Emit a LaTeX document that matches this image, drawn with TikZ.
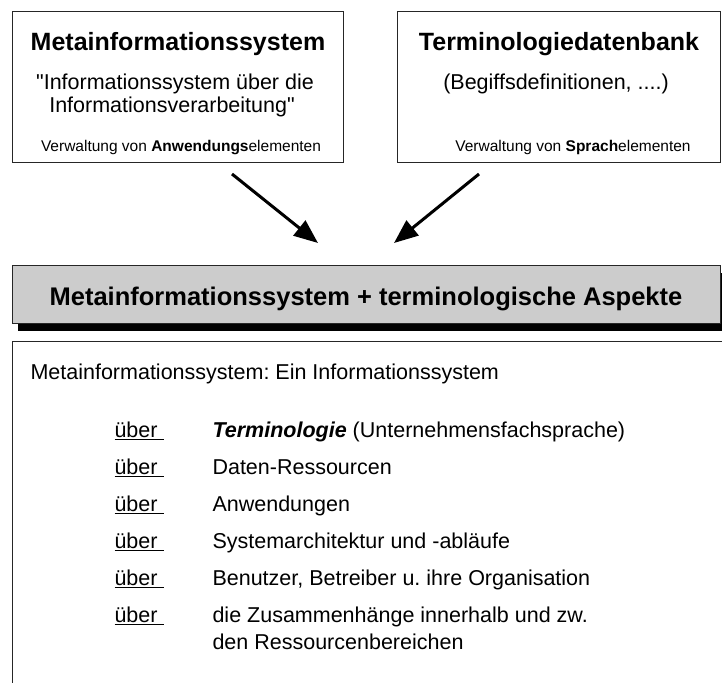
\documentclass[tikz,border=0pt]{standalone}
\usepackage{fontspec}
\setmainfont{Liberation Sans}[Ligatures=TeXOff]
\usetikzlibrary{arrows.meta, positioning, shadows}

\newcommand{\ueber}{\underline{über\ }}

\begin{document}
\frenchspacing
\begin{tikzpicture}[
    x=1pt, y=-1pt,
    frame/.style={draw=black!85, line width=1.4pt, anchor=north west, inner sep=0pt},
    heading/.style={font=\fontsize{25}{28}\selectfont\bfseries, anchor=base},
    body/.style={font=\fontsize{21.5}{24}\selectfont, anchor=base},
    note/.style={font=\fontsize{15.5}{18}\selectfont, anchor=base},
    item/.style={body, anchor=base west},
    flow/.style={-{Triangle[length=24pt, width=19pt]}, line width=3pt},
]
\clip (0,0) rectangle (722,682);
\fill[white] (0,0) rectangle (722,682);

% ── Top boxes ────────────────────────────
\node[frame, minimum width=331pt, minimum height=151pt] (metabox) at (12,11) {};
\node[frame, minimum width=323pt, minimum height=151pt] (termbox) at (397,11) {};

\node[heading] (metatitle) at (178,51) {Metainformationssystem};
\node[body] (metaquote1) at (175,89.5) {"Informationssystem über die};
\node[body] (metaquote2) at (172,113) {Informationsverarbeitung"};
\node[note] (metanote) at (181,151.5) {Verwaltung von \textbf{Anwendungs}elementen};

\node[heading] (termtitle) at (559,51) {Terminologiedatenbank};
\node[body] (termquote) at (556,89.5) {(Begiffsdefinitionen, ....)};
\node[note] (termnote) at (573,151.5) {Verwaltung von \textbf{Sprach}elementen};

% ── Arrows ────────────────────────────
\coordinate (metaout) at (232,174);
\coordinate (termout) at (479,174);
\coordinate (metain) at (318,243);
\coordinate (termin) at (394,243);
\draw[flow] (metaout) -- (metain);
\draw[flow] (termout) -- (termin);

% ── Banner ────────────────────────────
\node[frame, fill=black!20, minimum width=708pt, minimum height=58pt,
      drop shadow={shadow xshift=5pt, shadow yshift=-7pt, fill=black, opacity=1}] (banner) at (12,265) {};
\node[heading, font=\fontsize{25.5}{28}\selectfont\bfseries] (bannertext) at (366,305) {Metainformationssystem + terminologische Aspekte};

% ── Bottom box ────────────────────────────
\node[frame, minimum width=716pt, minimum height=360pt] (infobox) at (12,341) {};
\node[item] (infohead) at (27,379.5) {Metainformationssystem: Ein Informationssystem};

\foreach \txt [count=\i] in {%
    {\textbf{\textit{Terminologie}} (Unternehmensfachsprache)},
    {Daten-Ressourcen},
    {Anwendungen},
    {Systemarchitektur und -abläufe},
    {Benutzer, Betreiber u. ihre Organisation},
    {die Zusammenhänge innerhalb und zw.}} {
  \node[item] (ueber\i) at (111,{437.5+37*(\i-1)}) {\ueber};
  \node[item] (topic\i) at (209,{437.5+37*(\i-1)}) {\txt};
}
\node[item, yshift=-27pt] (topic7) at (topic6.base west) {den Ressourcenbereichen};

\end{tikzpicture}
\end{document}
